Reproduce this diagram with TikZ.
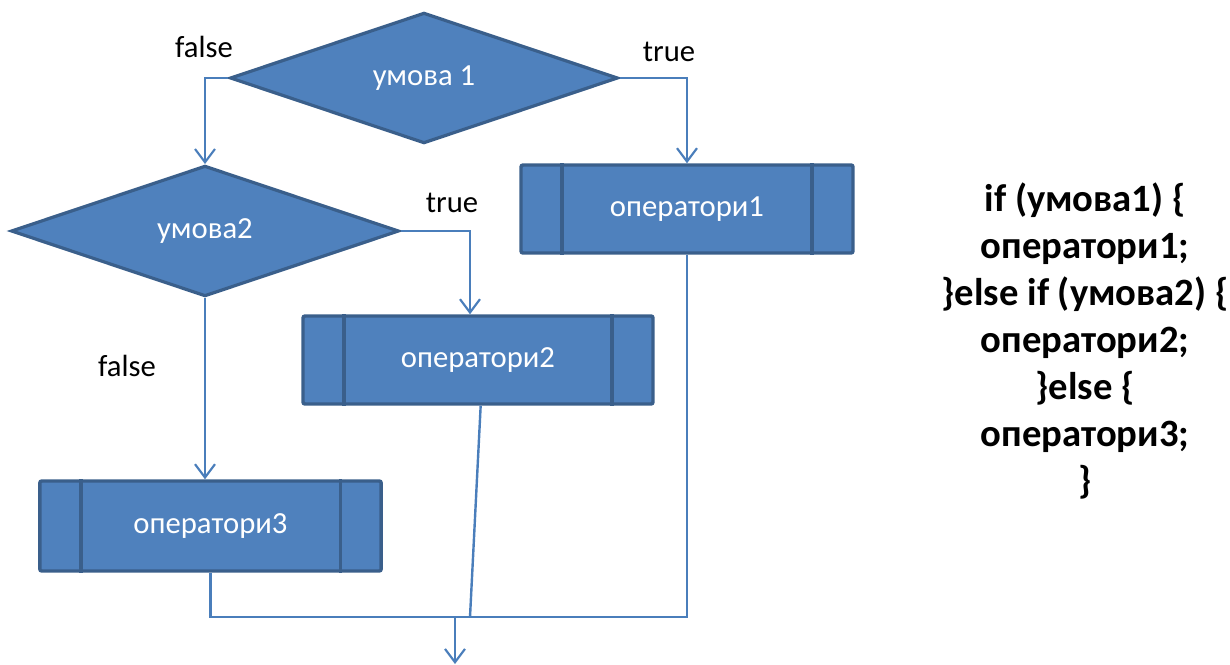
\documentclass[tikz,border=0pt]{standalone}
\usepackage{fontspec}
\setmainfont{Carlito}
\usetikzlibrary{shapes.geometric,arrows.meta}
\definecolor{shapefill}{HTML}{4F81BD}
\definecolor{shapeedge}{HTML}{3A5F8B}
\definecolor{wire}{HTML}{4A7EBB}
\begin{document}
\begin{tikzpicture}[x=0.75pt,y=-0.75pt,
  decision/.style={diamond,draw=shapeedge,fill=shapefill,line width=2.4pt,
    inner sep=0pt,aspect=3,minimum width=291pt,minimum height=98pt,
    text=white,font=\fontsize{23pt}{27pt}\selectfont},
  procbox/.style={rectangle,draw=shapeedge,fill=shapefill,line width=2.6pt,
    rounded corners=1.5pt,minimum height=66pt,
    text=white,font=\fontsize{23pt}{27pt}\selectfont},
  divider/.style={draw=shapeedge,line width=2.6pt},
  wireline/.style={draw=wire,line width=1.8pt},
  flow/.style={wireline,-{Straight Barb[length=10pt,width=15pt,line width=1.6pt]}},
  lbl/.style={text=black,font=\fontsize{23pt}{27pt}\selectfont,inner sep=0pt}]
\useasboundingbox (0,0) rectangle (1230,664);

% decisions
\node[decision] (d1) at (424,78) {умова 1};
\node[decision] (d2) at (205,231) {умова2};

% process blocks
\node[procbox,minimum width=249pt] (op1) at (687,209) {оператори1};
\node[procbox,minimum width=262.5pt] (op2) at (478,360) {оператори2};
\node[procbox,minimum width=256pt,minimum height=67.5pt] (op3) at (210.5,526) {оператори3};
\foreach \n in {op1,op2,op3}{
  \draw[divider] ([xshift=32pt]\n.north west) -- ([xshift=32pt]\n.south west);
  \draw[divider] ([xshift=-32pt]\n.north east) -- ([xshift=-32pt]\n.south east);
}

% branch labels
\node[lbl] (f1) at (204,47) {false};
\node[lbl] (t1) at (669,52) {true};
\node[lbl] (t2) at (452,203) {true};
\node[lbl] (f2) at (127,366) {false};

% branches
\draw[flow] (d1.west) -| (d2.north);
\draw[flow] (d1.east) -| (op1.north);
\draw[flow] (d2.east) -| ([xshift=-6pt]op2.north);
\draw[flow] (d2.south) -- (d2.south |- op3.north);

% merge
\coordinate (j) at (455,617);
\coordinate (k) at (470,617);
\coordinate (out) at (455,664);
\draw[wireline] (op3.south) |- (j);
\draw[wireline] (op1.south) |- (j);
\draw[wireline] ([xshift=2pt]op2.south) -- (k);
\draw[flow] (j) -- (out);

% equivalent code
\node[align=center,font=\bfseries\fontsize{29pt}{35.25pt}\selectfont,inner sep=0pt] (code) at (1085,341)
  {if (умова1) \{\\ оператори1;\\ \}else if (умова2) \{\\ оператори2;\\ \}else \{\\ оператори3;\\ \}};
\end{tikzpicture}
\end{document}
